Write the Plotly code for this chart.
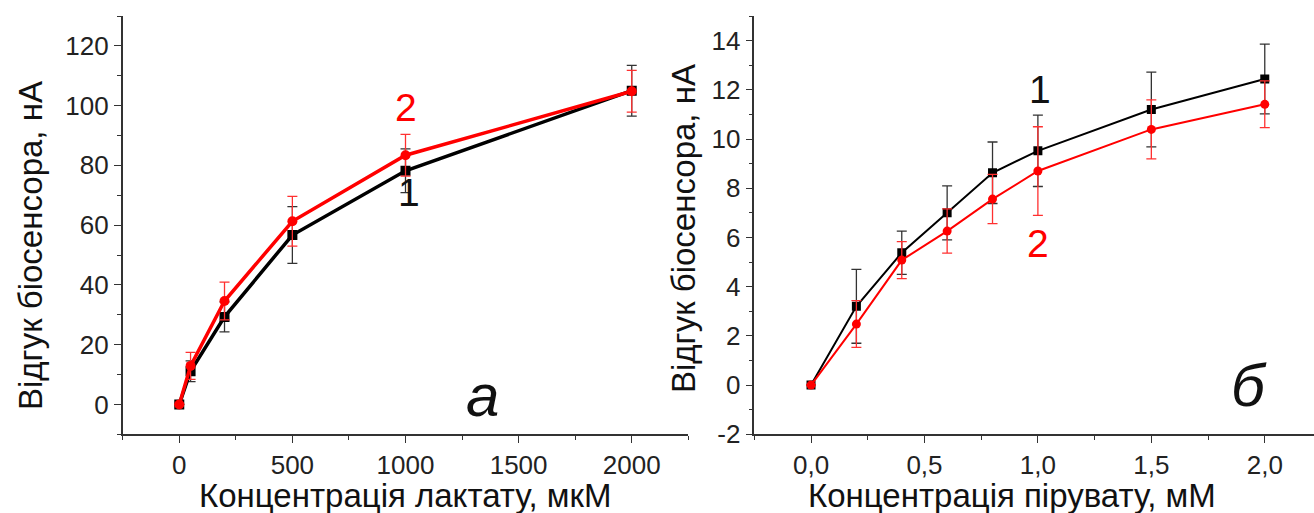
import plotly.graph_objects as go

# ---- Panel a: lactate ----
lact_x = [0, 50, 200, 500, 1000, 2000]
lact_y1 = [0, 11.1, 29.3, 56.7, 78.2, 105.0]
lact_e1 = [0, 3.5, 5.0, 9.5, 7.3, 8.5]
lact_y2 = [0, 12.9, 34.6, 61.3, 83.4, 104.8]
lact_e2 = [0, 4.5, 6.3, 8.3, 7.0, 7.0]

# ---- Panel б: pyruvate ----
pyr_x = [0, 0.2, 0.4, 0.6, 0.8, 1.0, 1.5, 2.0]
pyr_y1 = [0, 3.2, 5.38, 7.0, 8.63, 9.52, 11.2, 12.44]
pyr_e1 = [0, 1.5, 0.88, 1.1, 1.25, 1.45, 1.52, 1.42]
pyr_y2 = [0, 2.48, 5.08, 6.26, 7.56, 8.7, 10.39, 11.41]
pyr_e2 = [0, 0.95, 0.75, 0.9, 1.0, 1.8, 1.2, 0.95]

pyr_tickvals = [0, 0.5, 1.0, 1.5, 2.0]
pyr_ticktext = ["0,0", "0,5", "1,0", "1,5", "2,0"]
pyr_ytickvals = [-2, 0, 2, 4, 6, 8, 10, 12, 14]
pyr_yticktext = ["-2", "0", "2", "4", "6", "8", "10", "12", "14"]

W, H = 1314, 513
FONT = "Liberation Sans, Arial, sans-serif"
TICKCOL = "#222222"

fig = go.Figure()

# left panel
fig.add_trace(go.Scatter(
    x=lact_x, y=lact_y1, mode="lines+markers", xaxis="x", yaxis="y",
    line=dict(color="black", width=3.5),
    marker=dict(symbol="square", size=10, color="black"),
    error_y=dict(type="data", array=lact_e1, color="#333333", thickness=1.3, width=5),
    showlegend=False))
fig.add_trace(go.Scatter(
    x=lact_x, y=lact_y2, mode="lines+markers", xaxis="x", yaxis="y",
    line=dict(color="#ff0000", width=3.5),
    marker=dict(symbol="circle", size=10, color="#ff0000"),
    error_y=dict(type="data", array=lact_e2, color="#ff3030", thickness=1.3, width=5),
    showlegend=False))

# right panel
fig.add_trace(go.Scatter(
    x=pyr_x, y=pyr_y1, mode="lines+markers", xaxis="x2", yaxis="y2",
    line=dict(color="black", width=2),
    marker=dict(symbol="square", size=9, color="black"),
    error_y=dict(type="data", array=pyr_e1, color="#333333", thickness=1.3, width=5),
    showlegend=False))
fig.add_trace(go.Scatter(
    x=pyr_x, y=pyr_y2, mode="lines+markers", xaxis="x2", yaxis="y2",
    line=dict(color="#ff0000", width=2),
    marker=dict(symbol="circle", size=9, color="#ff0000"),
    error_y=dict(type="data", array=pyr_e2, color="#ff3030", thickness=1.3, width=5),
    showlegend=False))

ydom = [(H - 434.3) / H, (H - 16) / H]

axis_common = dict(
    showgrid=False, zeroline=False, showline=True, linecolor="#333333", linewidth=1.5,
    ticks="outside", ticklen=7, tickwidth=1.3, tickcolor="#333333",
    tickfont=dict(family=FONT, size=26, color=TICKCOL),
    mirror=False, automargin=False,
)

fig.update_layout(
    width=W, height=H, autosize=False,
    margin=dict(l=0, r=0, t=0, b=0, autoexpand=False),
    paper_bgcolor="white", plot_bgcolor="white",
    xaxis=dict(domain=[122.7 / W, 688.3 / W], range=[-250, 2250], anchor="y",
               tick0=0, dtick=500,
               minor=dict(ticks="outside", dtick=250, ticklen=4, tickcolor="#333333"),
               **axis_common),
    yaxis=dict(domain=ydom, range=[-10, 130], anchor="x",
               tick0=0, dtick=20,
               minor=dict(ticks="outside", dtick=10, tick0=0, ticklen=4, tickcolor="#333333"),
               **axis_common),
    xaxis2=dict(domain=[754.3 / W, 1.0], range=[-0.25, 2.217], anchor="y2",
                tickmode="array", tickvals=pyr_tickvals, ticktext=pyr_ticktext,
                minor=dict(ticks="outside", tickmode="array",
                           tickvals=[-0.25, 0.25, 0.75, 1.25, 1.75], ticklen=4, tickcolor="#333333"),
                **axis_common),
    yaxis2=dict(domain=ydom, range=[-2, 15], anchor="x2",
                tickmode="array", tickvals=pyr_ytickvals, ticktext=pyr_yticktext,
                minor=dict(ticks="outside", tickmode="array",
                           tickvals=[-1, 1, 3, 5, 7, 9, 11, 13, 15], ticklen=4, tickcolor="#333333"),
                **axis_common),
)

ann = []
TITLE_FONT = dict(family=FONT, size=33, color="#111111")
# axis titles
ann.append(dict(text="Концентрація лактату, мкМ", x=405 / W, y=(H - 495) / H,
                xref="paper", yref="paper", showarrow=False, xanchor="center", yanchor="middle",
                font=TITLE_FONT))
ann.append(dict(text="Концентрація пірувату, мМ", x=1012 / W, y=(H - 495) / H,
                xref="paper", yref="paper", showarrow=False, xanchor="center", yanchor="middle",
                font=TITLE_FONT))
ann.append(dict(text="Відгук біосенсора, нА", x=30 / W, y=(H - 246) / H, textangle=-90,
                xref="paper", yref="paper", showarrow=False, xanchor="center", yanchor="middle",
                font=TITLE_FONT))
ann.append(dict(text="Відгук біосенсора, нА", x=683 / W, y=(H - 229) / H, textangle=-90,
                xref="paper", yref="paper", showarrow=False, xanchor="center", yanchor="middle",
                font=TITLE_FONT))
# curve labels
LBL = 39
ann.append(dict(text="2", x=1000, y=99.5, xref="x", yref="y", showarrow=False,
                font=dict(family=FONT, size=LBL, color="#ff0000")))
ann.append(dict(text="1", x=1015, y=70.8, xref="x", yref="y", showarrow=False,
                font=dict(family=FONT, size=LBL, color="#111111")))
ann.append(dict(text="<i>а</i>", x=1342, y=3, xref="x", yref="y", showarrow=False,
                font=dict(family=FONT, size=60, color="#111111")))
ann.append(dict(text="1", x=1.008, y=12.0, xref="x2", yref="y2", showarrow=False,
                font=dict(family=FONT, size=LBL, color="#111111")))
ann.append(dict(text="2", x=1.0, y=5.77, xref="x2", yref="y2", showarrow=False,
                font=dict(family=FONT, size=LBL, color="#ff0000")))
ann.append(dict(text="<i>б</i>", x=1.93, y=0.0, xref="x2", yref="y2", showarrow=False,
                font=dict(family=FONT, size=60, color="#111111")))
fig.update_layout(annotations=ann)

fig.write_html("out.html")
